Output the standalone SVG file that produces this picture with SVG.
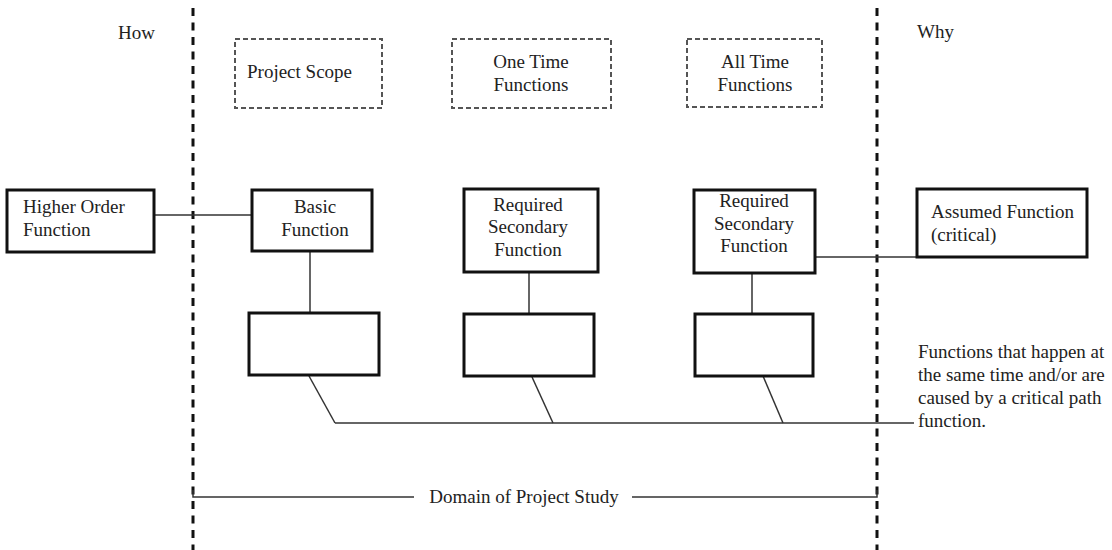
<svg xmlns="http://www.w3.org/2000/svg" width="1112" height="550" viewBox="0 0 1112 550">
<style>
text{font-family:"Liberation Serif","Times New Roman",serif;font-size:19px;fill:#222}
.c{text-anchor:middle}
.box{fill:#fff;stroke:#111;stroke-width:3}
.dbox{fill:none;stroke:#555;stroke-width:2;stroke-dasharray:5 3}
.div{stroke:#111;stroke-width:3;stroke-dasharray:8 6.5;fill:none}
.ln{stroke:#333;stroke-width:1.5;fill:none}
</style>
<rect width="1112" height="550" fill="#fff"/>
<g id="dividers">
<line class="div" x1="193" y1="8" x2="193" y2="550"/>
<line class="div" x1="877" y1="8" x2="877" y2="550"/>
</g>
<g id="labels">
<text x="118" y="39">How</text>
<text x="917" y="38">Why</text>
<text x="918" y="358">Functions that happen at</text>
<text x="918" y="381">the same time and/or are</text>
<text x="918" y="404">caused by a critical path</text>
<text x="918" y="427">function.</text>
</g>
<g id="domain">
<path class="ln" d="M193,490 V497 H414 M632,497 H877 V490"/>
<text x="524" y="503" class="c">Domain of Project Study</text>
</g>
<g id="connectors">
<line class="ln" x1="154" y1="215" x2="252" y2="215"/>
<line class="ln" x1="310" y1="251" x2="310" y2="313"/>
<line class="ln" x1="529" y1="272" x2="529" y2="314"/>
<line class="ln" x1="752" y1="273" x2="752" y2="314"/>
<line class="ln" x1="815" y1="257" x2="917" y2="257"/>
<line class="ln" x1="309" y1="376" x2="335" y2="423"/>
<line class="ln" x1="532" y1="377" x2="553" y2="423"/>
<line class="ln" x1="763" y1="376" x2="783" y2="423"/>
<line class="ln" x1="335" y1="423" x2="914" y2="423"/>
</g>
<g id="project-scope">
<rect class="dbox" x="235" y="39" width="147" height="69"/>
<text x="247" y="78">Project Scope</text>
</g>
<g id="one-time">
<rect class="dbox" x="452" y="39" width="159" height="69"/>
<text x="531" y="68" class="c">One Time</text>
<text x="531" y="91" class="c">Functions</text>
</g>
<g id="all-time">
<rect class="dbox" x="687" y="39" width="135" height="68"/>
<text x="755" y="68" class="c">All Time</text>
<text x="755" y="91" class="c">Functions</text>
</g>
<g id="higher-order">
<rect class="box" x="7" y="190" width="147" height="62"/>
<text x="23" y="213">Higher Order</text>
<text x="23" y="236">Function</text>
</g>
<g id="basic">
<rect class="box" x="252" y="190" width="120" height="61"/>
<text x="315" y="213" class="c">Basic</text>
<text x="315" y="236" class="c">Function</text>
</g>
<g id="req-sec-1">
<rect class="box" x="464" y="189" width="134" height="83"/>
<text x="528" y="211" class="c">Required</text>
<text x="528" y="233" class="c">Secondary</text>
<text x="528" y="256" class="c">Function</text>
</g>
<g id="req-sec-2">
<rect class="box" x="694" y="190" width="121" height="83"/>
<text x="754" y="207" class="c">Required</text>
<text x="754" y="230" class="c">Secondary</text>
<text x="754" y="252" class="c">Function</text>
</g>
<g id="assumed">
<rect class="box" x="917" y="189" width="170" height="68"/>
<text x="931" y="218">Assumed Function</text>
<text x="931" y="241">(critical)</text>
</g>
<g id="sub-1"><rect class="box" x="249" y="313" width="130" height="62"/></g>
<g id="sub-2"><rect class="box" x="464" y="314" width="130" height="62"/></g>
<g id="sub-3"><rect class="box" x="695" y="314" width="118" height="62"/></g>
</svg>
